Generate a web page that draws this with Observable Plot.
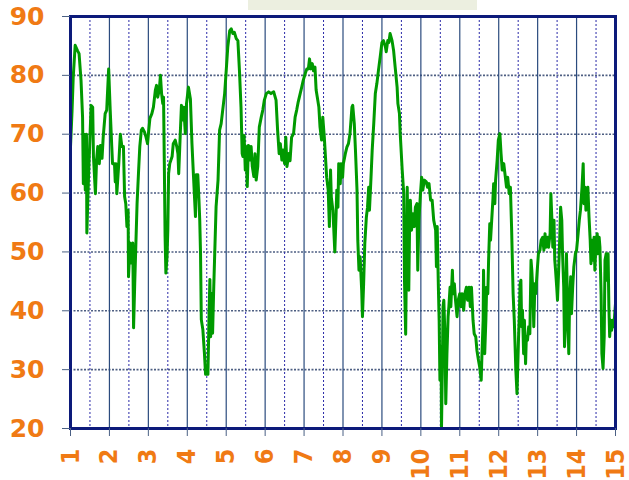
<!DOCTYPE html>
<html>
<head>
<meta charset="utf-8">
<script src="https://cdn.jsdelivr.net/npm/d3@7"></script>
<script src="https://cdn.jsdelivr.net/npm/@observablehq/plot@0.6"></script>
<style>
  html, body { margin: 0; padding: 0; background: #ffffff; }
  #wrap { position: relative; width: 629px; height: 480px; overflow: hidden; }
  #titlebox { position: absolute; left: 248px; top: 0; width: 229px; height: 10px; background: #ECEFE0; z-index: 2; }
</style>
</head>
<body>
<div id="wrap"><div id="titlebox"></div></div>
<script>
const xTicks = [1, 2, 3, 4, 5, 6, 7, 8, 9, 10, 11, 12, 13, 14, 15];
const xHalfTicks = [1.5, 2.5, 3.5, 4.5, 5.5, 6.5, 7.5, 8.5, 9.5, 10.5, 11.5, 12.5, 13.5, 14.5];
const yTicks = [20, 30, 40, 50, 60, 70, 80, 90];
const yGrid = [30, 40, 50, 60, 70, 80];

const t = [
1.00,1.04,1.07,1.12,1.18,1.22,1.27,1.31,1.33,1.35,1.38,1.41,1.42,1.46,1.50,1.53,1.57,1.59,1.64,1.67,
1.70,1.74,1.77,1.81,1.84,1.89,1.93,1.98,2.02,2.06,2.08,2.13,2.15,2.17,2.19,2.24,2.28,2.32,2.36,2.39,
2.42,2.45,2.48,2.49,2.53,2.56,2.60,2.62,2.65,2.68,2.71,2.75,2.78,2.82,2.85,2.90,2.94,2.98,3.01,3.04,
3.09,3.13,3.18,3.21,3.24,3.28,3.31,3.34,3.37,3.39,3.41,3.43,3.45,3.48,3.50,3.52,3.55,3.61,3.64,3.69,
3.73,3.76,3.78,3.82,3.85,3.88,3.91,3.95,3.98,4.03,4.08,4.12,4.16,4.21,4.23,4.27,4.30,4.32,4.34,4.36,
4.40,4.44,4.47,4.53,4.56,4.58,4.60,4.62,4.65,4.68,4.70,4.74,4.79,4.83,4.87,4.91,4.96,5.00,5.04,5.09,
5.13,5.17,5.21,5.26,5.30,5.34,5.38,5.41,5.43,5.46,5.49,5.51,5.54,5.57,5.61,5.64,5.67,5.71,5.74,5.77,
5.81,5.85,5.90,5.94,5.98,6.03,6.09,6.15,6.22,6.28,6.32,6.36,6.39,6.43,6.46,6.50,6.53,6.56,6.61,6.64,
6.68,6.73,6.77,6.81,6.85,6.90,6.94,6.98,7.03,7.07,7.11,7.14,7.17,7.21,7.24,7.28,7.31,7.34,7.38,7.41,
7.45,7.48,7.52,7.55,7.58,7.62,7.65,7.68,7.70,7.74,7.76,7.79,7.82,7.84,7.87,7.89,7.93,7.95,7.99,8.01,
8.06,8.10,8.14,8.18,8.23,8.25,8.29,8.32,8.36,8.38,8.41,8.44,8.48,8.50,8.53,8.56,8.60,8.63,8.66,8.68,
8.72,8.75,8.79,8.83,8.87,8.91,8.96,9.00,9.04,9.09,9.11,9.15,9.18,9.21,9.26,9.30,9.34,9.39,9.41,9.45,
9.47,9.52,9.56,9.58,9.61,9.65,9.67,9.69,9.71,9.73,9.76,9.80,9.83,9.86,9.90,9.92,9.95,9.99,10.02,10.05,
10.09,10.14,10.17,10.21,10.25,10.29,10.33,10.38,10.40,10.42,10.45,10.47,10.49,10.52,10.53,10.55,10.57,10.59,10.62,10.64,
10.67,10.70,10.72,10.75,10.77,10.81,10.83,10.86,10.89,10.93,10.96,11.00,11.03,11.06,11.10,11.13,11.17,11.20,11.24,11.27,
11.30,11.34,11.37,11.41,11.44,11.48,11.51,11.55,11.57,11.60,11.61,11.64,11.67,11.69,11.72,11.74,11.77,11.79,11.82,11.85,
11.87,11.90,11.92,11.96,11.99,12.03,12.06,12.09,12.13,12.16,12.20,12.23,12.27,12.30,12.33,12.37,12.40,12.44,12.47,12.51,
12.53,12.55,12.57,12.59,12.61,12.64,12.66,12.69,12.71,12.74,12.77,12.80,12.83,12.85,12.88,12.90,12.93,12.95,12.99,13.02,
13.06,13.09,13.13,13.16,13.19,13.21,13.25,13.28,13.32,13.34,13.37,13.39,13.42,13.44,13.46,13.49,13.51,13.54,13.56,13.59,
13.62,13.64,13.67,13.69,13.72,13.74,13.77,13.80,13.82,13.85,13.87,13.90,13.93,13.97,14.00,14.04,14.07,14.10,14.14,14.17,
14.19,14.22,14.24,14.27,14.29,14.32,14.35,14.37,14.40,14.42,14.45,14.47,14.50,14.53,14.55,14.58,14.60,14.63,14.65,14.68,
14.71,14.73,14.76,14.78,14.81,14.83,14.85,14.88,14.90,14.93,14.96,14.98,15.00
];

const values = [
67.9,74.0,79.7,85.1,84.2,83.7,79.2,72.9,61.6,70.0,60.5,70.0,53.2,62.2,69.5,74.9,74.6,66.2,59.9,65.6,
67.9,65.0,68.1,65.9,69.5,73.5,74.1,81.1,74.1,67.9,65.0,65.0,61.9,65.0,59.9,65.0,70.0,67.9,67.9,59.4,
58.2,54.3,57.1,45.8,51.5,48.1,51.5,37.1,44.7,51.5,58.2,63.9,67.9,70.7,71.0,70.4,69.5,68.4,70.7,72.7,
73.5,74.6,77.5,78.3,76.3,77.5,80.0,76.9,75.2,76.3,65.0,52.6,46.4,49.2,53.7,63.3,65.0,66.2,68.4,69.0,
67.9,66.7,63.3,70.1,74.9,72.4,74.6,70.1,75.2,78.0,76.0,68.4,62.8,56.0,63.1,63.1,58.8,55.4,49.8,38.5,
36.8,32.8,29.2,29.2,39.6,45.3,35.6,43.0,36.2,44.1,48.6,57.7,62.2,70.7,71.8,74.1,76.9,80.8,84.8,87.6,
87.9,87.1,87.3,86.2,85.9,80.8,74.6,66.7,66.2,69.8,63.9,67.9,61.1,68.1,65.6,67.9,64.5,62.8,66.7,62.2,
64.5,71.2,72.9,74.1,75.8,76.9,77.2,76.9,77.2,75.8,70.7,66.7,68.4,65.6,67.3,65.0,69.5,64.5,66.7,65.5,
69.5,70.1,72.9,74.1,75.5,76.9,78.0,79.2,80.3,81.1,81.1,82.8,81.1,82.0,80.8,81.4,77.5,76.3,74.6,71.2,
69.0,72.9,69.5,66.1,62.7,60.5,54.3,63.9,59.3,57.1,54.3,50.0,55.9,60.5,57.6,65.0,61.6,65.0,62.7,65.0,
66.7,67.8,68.4,70.1,74.6,74.9,71.8,67.3,60.5,52.0,46.9,49.2,43.5,39.0,44.6,51.4,55.9,57.6,61.0,57.1,
62.7,67.3,71.8,76.9,78.6,80.8,83.4,85.6,85.9,84.8,84.0,85.9,85.6,87.1,85.9,84.2,81.4,78.0,75.2,73.5,
70.1,64.0,60.0,45.0,36.0,61.0,50.0,43.5,54.0,58.8,53.7,56.5,54.3,57.6,58.2,46.9,55.4,59.9,62.7,60.5,
62.2,61.9,61.0,61.6,58.8,58.8,55.4,53.7,47.5,54.3,44.0,38.4,28.2,33.9,20.0,29.3,40.7,41.8,35.6,24.2,
32.7,39.0,40.7,44.0,40.7,46.9,42.9,44.6,41.8,39.0,41.8,42.9,40.7,42.9,40.1,42.9,44.0,41.8,44.0,40.7,
44.0,38.4,36.1,35.6,33.3,31.6,30.5,28.2,32.7,38.4,46.9,32.7,38.4,44.0,42.9,48.6,54.8,52.0,55.4,58.8,
61.6,58.2,62.2,65.6,69.0,70.1,66.7,63.9,65.0,63.3,61.0,62.7,59.9,61.0,54.3,42.9,38.4,29.9,25.9,35.6,
39.5,44.6,45.2,37.3,40.1,32.7,38.4,31.0,35.6,35.0,37.3,36.1,48.6,46.9,42.9,37.3,44.6,42.9,46.9,49.7,
50.3,52.0,52.5,50.3,53.1,50.8,52.5,50.8,53.1,59.9,54.8,50.8,55.4,48.6,46.9,44.0,41.8,46.9,50.8,57.6,
55.4,49.7,44.0,33.9,38.4,49.7,40.7,32.7,41.3,45.8,39.5,44.0,47.5,49.7,50.3,53.1,55.4,57.1,61.0,65.0,
58.2,61.0,57.1,60.5,61.0,55.9,52.0,48.0,52.0,48.6,52.5,46.9,52.0,53.1,49.7,52.5,50.8,42.9,32.7,30.2,
35.6,48.6,49.7,45.2,49.7,40.7,35.6,38.4,36.7,38.4,37.3,39.5,41.2
];

const data = t.map((x, i) => ({x, y: values[i]}));

const orange = "#F07A14";
const navy = "#0C1A7A";

const chart = Plot.plot({
  width: 629,
  height: 480,
  marginLeft: 70,
  marginRight: 14,
  marginTop: 16,
  marginBottom: 52,
  x: {domain: [1, 15]},
  y: {domain: [20, 90]},
  style: {
    fontFamily: "DejaVu Sans",
    fontWeight: "bold",
    fontSize: "25px",
    color: orange,
    background: "#ffffff",
    overflow: "visible"
  },
  marks: [
    Plot.gridY(yGrid, {stroke: "#4E5F82", strokeOpacity: 1, strokeWidth: 1.6, strokeDasharray: "2,1.5"}),
    Plot.gridX(xHalfTicks, {stroke: "#2A2AA8", strokeOpacity: 1, strokeWidth: 1, strokeDasharray: "2,2"}),
    Plot.gridX(xTicks, {stroke: "#2B4B7E", strokeOpacity: 1, strokeWidth: 1.2}),
    Plot.line(data, {x: "x", y: "y", stroke: "#009A00", strokeWidth: 3, strokeLinejoin: "round"}),
    Plot.frame({stroke: navy, strokeWidth: 3}),
    Plot.axisY({ticks: yTicks, tickSize: 8, tickPadding: 18, stroke: "#4A6084", fill: orange, label: null, fontSize: 25}),
    Plot.axisX({ticks: xTicks, tickSize: 8, tickFormat: () => "", stroke: "#4A6084", label: null}),
    Plot.text(xTicks, {
      x: d => d,
      text: d => String(d),
      frameAnchor: "bottom",
      dy: 20,
      rotate: -90,
      textAnchor: "end",
      lineAnchor: "middle",
      fill: orange,
      fontSize: 25,
      fontWeight: "bold",
      fontFamily: "'DejaVu Sans Condensed', 'DejaVu Sans'"
    })
  ]
});

document.getElementById("wrap").appendChild(chart);
</script>
</body>
</html>
